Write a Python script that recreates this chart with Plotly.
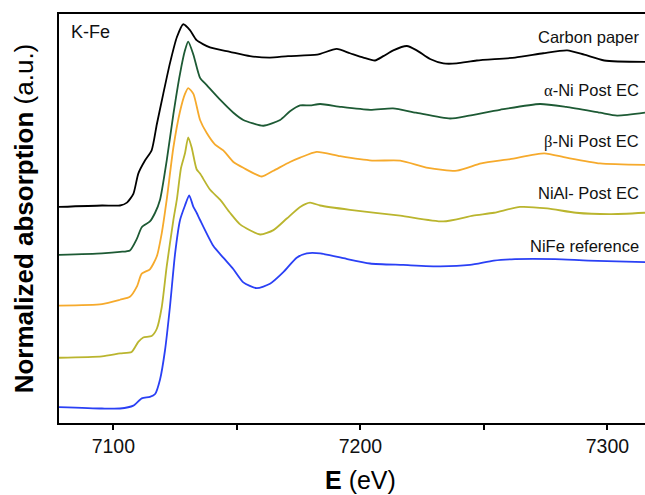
import plotly.graph_objects as go

# Energies (eV) and normalized absorption for each sample
e_carbon = [7078.0, 7095.4, 7102.7, 7105.5, 7108.1, 7110.1, 7112.8, 7115.5, 7117.6, 7120.2,
            7122.9, 7125.7, 7128.3, 7131.0, 7133.7, 7139.1, 7147.2, 7155.3, 7163.4, 7170.7,
            7182.5, 7190.4, 7195.8, 7201.2, 7205.9, 7209.3, 7213.3, 7218.8, 7222.8, 7228.2,
            7233.6, 7239.0, 7247.1, 7262.6, 7274.0, 7283.7, 7290.6, 7298.7, 7315.2]
mu_carbon = [-0.01, 0.00, 0.00, 0.02, 0.08, 0.22, 0.31, 0.38, 0.56, 0.77,
             0.98, 1.16, 1.25, 1.21, 1.14, 1.09, 1.06, 1.03, 1.02, 1.03,
             1.04, 1.08, 1.05, 1.02, 1.00, 1.03, 1.07, 1.10, 1.07, 1.01,
             0.98, 0.98, 1.00, 1.02, 1.05, 1.07, 1.04, 1.00, 0.99]

e_alpha = [7078.0, 7095.4, 7102.7, 7106.7, 7109.5, 7111.5, 7114.8, 7116.9, 7118.9, 7121.6,
           7124.3, 7127.0, 7129.0, 7130.3, 7132.4, 7135.1, 7137.8, 7143.2, 7148.6, 7152.6,
           7160.7, 7167.5, 7171.5, 7175.6, 7179.6, 7183.7, 7192.2, 7203.9, 7213.2, 7222.5,
           7236.3, 7244.0, 7256.5, 7272.7, 7283.3, 7297.0, 7303.9, 7315.2]
mu_alpha = [0.01, 0.02, 0.03, 0.04, 0.12, 0.20, 0.24, 0.30, 0.39, 0.66,
            0.98, 1.26, 1.42, 1.48, 1.39, 1.23, 1.18, 1.08, 0.99, 0.94,
            0.90, 0.94, 1.00, 1.04, 1.04, 1.05, 1.03, 1.01, 1.02, 0.99,
            0.95, 0.97, 1.01, 1.05, 1.03, 0.99, 0.97, 0.99]

e_beta = [7078.0, 7095.4, 7102.7, 7106.7, 7109.5, 7111.5, 7114.8, 7117.6, 7119.6, 7121.6,
          7124.3, 7127.0, 7129.0, 7130.3, 7132.4, 7135.1, 7137.8, 7141.2, 7144.5, 7148.6,
          7152.6, 7160.1, 7164.8, 7171.5, 7175.6, 7182.3, 7191.8, 7204.7, 7216.1, 7227.4,
          7239.1, 7248.9, 7260.6, 7274.4, 7283.3, 7297.0, 7315.2]
mu_beta = [0.01, 0.02, 0.05, 0.07, 0.14, 0.23, 0.26, 0.35, 0.51, 0.74,
           1.10, 1.35, 1.47, 1.51, 1.47, 1.29, 1.20, 1.12, 1.08, 1.00,
           0.96, 0.90, 0.94, 1.00, 1.03, 1.07, 1.04, 1.01, 1.01, 0.96,
           0.94, 0.99, 1.02, 1.06, 1.03, 0.99, 0.98]

e_nial = [7078.0, 7095.4, 7102.7, 7107.4, 7110.1, 7112.1, 7115.5, 7117.6, 7119.6, 7121.6,
          7124.3, 7125.7, 7127.4, 7129.0, 7130.3, 7131.7, 7133.7, 7135.1, 7139.1, 7143.2,
          7147.2, 7151.3, 7159.4, 7164.8, 7170.2, 7175.6, 7179.6, 7183.7, 7195.8, 7216.1,
          7233.5, 7245.6, 7254.1, 7264.6, 7275.6, 7287.3, 7300.7, 7315.2]
mu_nial = [0.00, 0.01, 0.03, 0.04, 0.11, 0.14, 0.15, 0.20, 0.35, 0.63,
           0.95, 1.09, 1.31, 1.41, 1.52, 1.45, 1.30, 1.27, 1.16, 1.09,
           1.00, 0.92, 0.85, 0.88, 0.96, 1.04, 1.07, 1.05, 1.02, 0.98,
           0.94, 0.98, 1.00, 1.04, 1.03, 1.00, 0.99, 1.00]

e_nife = [7078.0, 7095.4, 7102.7, 7108.1, 7111.5, 7114.8, 7116.9, 7118.9, 7120.9, 7122.9,
          7125.0, 7127.0, 7129.0, 7130.7, 7132.4, 7133.7, 7135.1, 7140.5, 7144.5, 7148.6,
          7152.6, 7158.0, 7163.4, 7168.8, 7174.2, 7178.3, 7183.7, 7192.2, 7203.9, 7217.3,
          7232.3, 7244.4, 7254.0, 7262.6, 7278.8, 7292.2, 7315.2]
mu_nife = [0.01, 0.00, 0.00, 0.02, 0.07, 0.08, 0.10, 0.20, 0.40, 0.70,
           1.07, 1.30, 1.40, 1.47, 1.39, 1.35, 1.30, 1.12, 1.04, 0.96,
           0.87, 0.83, 0.86, 0.94, 1.04, 1.07, 1.07, 1.04, 1.00, 0.99,
           0.98, 0.99, 1.02, 1.03, 1.03, 1.02, 1.01]

labels = ["Carbon paper",
          "<span style=\"font-family:'Liberation Serif'\">α</span>-Ni Post EC",
          "<span style=\"font-family:'Liberation Serif'\">β</span>-Ni Post EC",
          "NiAl- Post EC",
          "NiFe reference"]
offsets = [1.50, 1.15, 0.80, 0.45, 0.10]
colors = ["#000000", "#1d5a34", "#f6aa2c", "#bab52e", "#2a40f5"]
energies = [e_carbon, e_alpha, e_beta, e_nial, e_nife]
mus = [mu_carbon, mu_alpha, mu_beta, mu_nial, mu_nife]
label_y = [0.943, 0.814, 0.688, 0.562, 0.433]

x_ticks = [7100, 7150, 7200, 7250, 7300]
x_tick_text = ["7100", "", "7200", "", "7300"]

FONT = "Arial, 'Liberation Sans', sans-serif"

fig = go.Figure()
for e, mu, off, col in zip(energies, mus, offsets, colors):
    fig.add_trace(go.Scatter(
        x=e, y=[m + off for m in mu], mode="lines",
        line=dict(color=col, width=1.8, shape="spline", smoothing=0.6),
        showlegend=False, hoverinfo="skip"))

annotations = []
for lab, ly in zip(labels, label_y):
    annotations.append(dict(text=lab, xref="paper", yref="paper", x=0.994, y=ly,
                            xanchor="right", yanchor="middle", showarrow=False,
                            font=dict(family=FONT, size=16.5, color="#111111")))
annotations.append(dict(text="K-Fe", xref="paper", yref="paper", x=0.017, y=0.956,
                        xanchor="left", yanchor="middle", showarrow=False,
                        font=dict(family=FONT, size=18, color="#111111")))
annotations.append(dict(text="<b>E</b> (eV)", xref="paper", yref="paper", x=0.515, y=-0.139,
                        xanchor="center", yanchor="middle", showarrow=False,
                        font=dict(family=FONT, size=25, color="#000000")))
annotations.append(dict(text="<b>Normalized absorption</b> (a.u.)", xref="paper", yref="paper",
                        x=-0.060, y=0.50, xanchor="center", yanchor="middle", textangle=-90,
                        showarrow=False, font=dict(family=FONT, size=26, color="#000000")))

fig.update_layout(
    width=645, height=495,
    margin=dict(l=59, r=0, t=14, b=72),
    paper_bgcolor="white", plot_bgcolor="white",
    font=dict(family=FONT, color="#000000"),
    annotations=annotations,
    xaxis=dict(range=[7078, 7315.2], showline=True, linewidth=2, linecolor="black",
               mirror=True, ticks="outside", ticklen=5, tickwidth=1.5, tickcolor="black",
               tickvals=x_ticks, ticktext=x_tick_text, tickfont=dict(size=19.5, color="#111111"),
               showgrid=False, zeroline=False),
    yaxis=dict(range=[0, 2.8207], showline=True, linewidth=2, linecolor="black",
               ticks="", showticklabels=False, showgrid=False, zeroline=False),
)

fig.write_html("out.html")
